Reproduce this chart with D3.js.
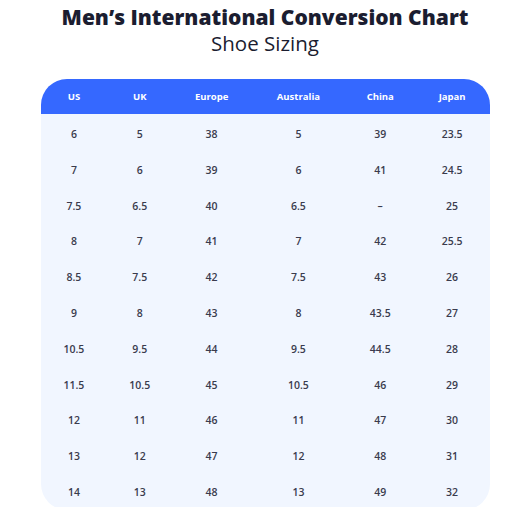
<!DOCTYPE html>
<html>
<head>
<meta charset="utf-8">
<script src="https://cdn.jsdelivr.net/npm/d3@7"></script>
<style>
  body { margin: 0; background: #fff; font-family: "Open Sans", sans-serif; }
</style>
</head>
<body>
<div id="chart"></div>
<script>
const columns = ["US", "UK", "Europe", "Australia", "China", "Japan"];
const us = ["6", "7", "7.5", "8", "8.5", "9", "10.5", "11.5", "12", "13", "14"];
const uk = ["5", "6", "6.5", "7", "7.5", "8", "9.5", "10.5", "11", "12", "13"];
const europe = ["38", "39", "40", "41", "42", "43", "44", "45", "46", "47", "48"];
const australia = ["5", "6", "6.5", "7", "7.5", "8", "9.5", "10.5", "11", "12", "13"];
const china = ["39", "41", "–", "42", "43", "43.5", "44.5", "46", "47", "48", "49"];
const japan = ["23.5", "24.5", "25", "25.5", "26", "27", "28", "29", "30", "31", "32"];

const series = [us, uk, europe, australia, china, japan];

// relative column widths (layout only)
const colWeights = [66, 66, 78, 96, 68, 76];

const width = 530, height = 507;
const left = 41, right = 490, headTop = 79, headBottom = 114, bodyBottom = 510, radius = 26;

const svg = d3.select("#chart").append("svg")
    .attr("width", width)
    .attr("height", height);

// column centres from cumulative weights
const total = d3.sum(colWeights);
const cum = d3.cumsum(colWeights);
const x = d3.scaleLinear().domain([0, total]).range([left, right]);
const colX = d3.scaleOrdinal()
    .domain(columns)
    .range(columns.map((c, i) => x(cum[i] - colWeights[i] / 2)));

const y = d3.scaleBand()
    .domain(d3.range(us.length))
    .range([headBottom + 2, bodyBottom]);

// title
svg.append("text")
    .attr("x", width / 2)
    .attr("y", 25)
    .attr("text-anchor", "middle")
    .attr("font-size", 21)
    .attr("font-weight", 800)
    .attr("fill", "#1b1d30")
    .text("Men’s International Conversion Chart");

svg.append("text")
    .attr("x", width / 2)
    .attr("y", 51)
    .attr("text-anchor", "middle")
    .attr("font-size", 20.5)
    .attr("font-weight", 400)
    .attr("fill", "#1b1d30")
    .text("Shoe Sizing");

// body background
const bodyPath = `M${left},${headBottom} H${right} V${bodyBottom - radius}
  A${radius},${radius} 0 0 1 ${right - radius},${bodyBottom} H${left + radius}
  A${radius},${radius} 0 0 1 ${left},${bodyBottom - radius} Z`;
svg.append("path").attr("d", bodyPath).attr("fill", "#f1f6ff");

// header
const headPath = `M${left},${headBottom} V${headTop + radius}
  A${radius},${radius} 0 0 1 ${left + radius},${headTop} H${right - radius}
  A${radius},${radius} 0 0 1 ${right},${headTop + radius} V${headBottom} Z`;
svg.append("path").attr("d", headPath).attr("fill", "#3568ff");

svg.append("g").selectAll("text")
    .data(columns)
    .join("text")
    .attr("x", d => colX(d))
    .attr("y", (headTop + headBottom) / 2 + 3.5)
    .attr("text-anchor", "middle")
    .attr("font-size", 9.5)
    .attr("font-weight", 700)
    .attr("fill", "#fff")
    .text(d => d);

// cells
const cols = svg.append("g").selectAll("g")
    .data(series)
    .join("g")
    .attr("transform", (d, i) => `translate(${colX(columns[i])},0)`);

cols.selectAll("text")
    .data(d => d)
    .join("text")
    .attr("x", 0)
    .attr("y", (d, i) => y(i) + y.bandwidth() / 2 + 4)
    .attr("text-anchor", "middle")
    .attr("font-size", 10.5)
    .attr("font-weight", 600)
    .attr("fill", "#3a3b4d")
    .text(d => d);
</script>
</body>
</html>
